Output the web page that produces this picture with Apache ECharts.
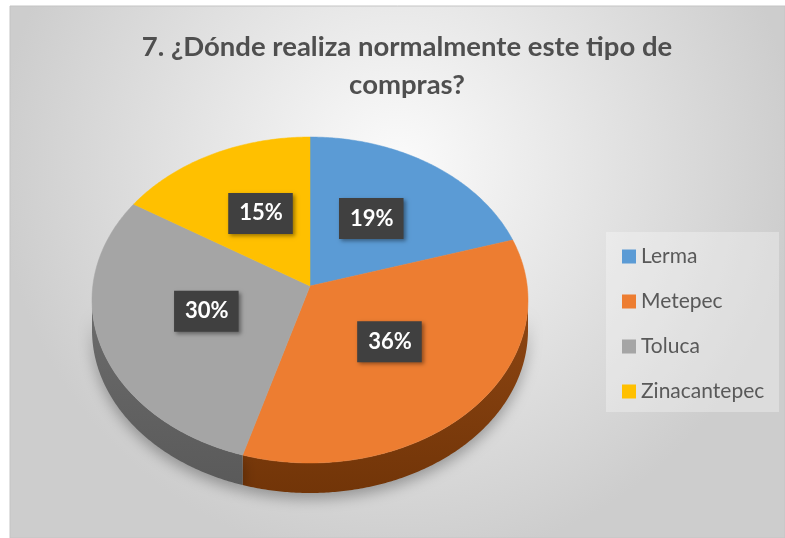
<!DOCTYPE html>
<html lang="es" style="height: 100%">
<head>
  <meta charset="UTF-8">
  <title>Compras</title>
</head>
<body style="height: 100%; margin: 0; background: #fff">
<div id="container" style="width: 785px; height: 538px"></div>
<script src="https://cdn.jsdelivr.net/npm/echarts@6/dist/echarts.min.js"></script>
<script type="text/javascript">
  var categories = ['Lerma', 'Metepec', 'Toluca', 'Zinacantepec'];
  var values = [19, 36, 30, 15];
  var colors = ['#5b9bd5', '#ed7d31', '#a5a5a5', '#ffc000'];
  // side wall shades (top, bottom)
  var sideTop = ['#35608a', '#8e4613', '#6c6c6c', '#9a7400'];
  var sideBottom = ['#2a4d70', '#723508', '#5a5a5a', '#7d5e00'];

  var dom = document.getElementById('container');
  var myChart = echarts.init(dom, null, { renderer: 'canvas' });

  var total = values.reduce(function (a, b) { return a + b; }, 0);
  // ellipse of the tilted pie
  var cx = 310, cy = 300, rx = 218, ry = 163, depth = 30;
  var apexY = 286;

  function pt(a, dy) {
    return [cx + rx * Math.sin(a), cy - ry * Math.cos(a) + (dy || 0)];
  }

  function renderSlice(params, api) {
    var i = params.seriesIndex;
    var before = 0;
    for (var k = 0; k < i; k++) before += values[k];
    var a0 = before / total * Math.PI * 2;
    var a1 = (before + values[i]) / total * Math.PI * 2;
    var children = [];

    // front side wall
    var s0 = Math.max(a0, Math.PI / 2), s1 = Math.min(a1, Math.PI * 1.5);
    if (s1 > s0) {
      var side = [];
      var n = Math.ceil((s1 - s0) / 0.01);
      for (var j = 0; j <= n; j++) side.push(pt(s0 + (s1 - s0) * j / n));
      for (var j = n; j >= 0; j--) side.push(pt(s0 + (s1 - s0) * j / n, depth));
      children.push({
        type: 'polygon',
        shape: { points: side },
        style: {
          fill: new echarts.graphic.LinearGradient(0, 0, 0, 1, [
            { offset: 0, color: sideTop[i] },
            { offset: 1, color: sideBottom[i] }
          ]),
          shadowBlur: 14, shadowColor: 'rgba(0,0,0,0.3)', shadowOffsetY: 6
        },
        z2: 1
      });
    }

    // top face
    var top = [[cx, apexY]];
    var m = Math.ceil((a1 - a0) / 0.01);
    for (var j = 0; j <= m; j++) top.push(pt(a0 + (a1 - a0) * j / m));
    children.push({
      type: 'polygon',
      shape: { points: top },
      style: { fill: colors[i], stroke: colors[i], lineWidth: 0.5 },
      z2: 2
    });

    // label
    var mid = (a0 + a1) / 2;
    children.push({
      type: 'text',
      x: cx + rx * 0.5 * Math.sin(mid),
      y: apexY - ry * 0.5 * Math.cos(mid),
      style: {
        text: Math.round(values[i] / total * 100) + '%',
        fill: '#fff',
        font: 'bold 22px Lato',
        align: 'center',
        verticalAlign: 'middle',
        backgroundColor: '#404040',
        padding: [10, 10, 9, 11],
        shadowBlur: 4, shadowColor: 'rgba(0,0,0,0.4)', shadowOffsetX: 2, shadowOffsetY: 2
      },
      z2: 10
    });
    return { type: 'group', children: children };
  }

  var series = categories.map(function (name, i) {
    return {
      name: name,
      type: 'custom',
      coordinateSystem: 'none',
      color: colors[i],
      data: [values[i]],
      renderItem: renderSlice,
      silent: true
    };
  });

  var option = {
    backgroundColor: '#fff',
    title: {
      text: '7. ¿Dónde realiza normalmente este tipo de\ncompras?',
      left: 402,
      top: 23,
      textAlign: 'center',
      textStyle: {
        fontFamily: 'Lato',
        fontWeight: 'bold',
        fontSize: 27.5,
        lineHeight: 38,
        color: '#4f4f4f'
      }
    },
    graphic: [
      {
        type: 'rect',
        shape: { x: 10, y: 6, width: 775, height: 532 },
        style: {
          fill: new echarts.graphic.RadialGradient(0.5, 0.3, 0.75, [
            { offset: 0, color: '#fbfbfb' },
            { offset: 1, color: '#cdcdcd' }
          ]),
          stroke: '#c4c4c4',
          lineWidth: 1
        },
        z: -10,
        silent: true
      },
      {
        type: 'rect',
        shape: { x: 606, y: 232, width: 173, height: 180 },
        style: { fill: 'rgba(255,255,255,0.3)' },
        z: -9,
        silent: true
      }
    ],
    legend: {
      data: categories,
      orient: 'vertical',
      left: 617,
      top: 241,
      icon: 'rect',
      itemWidth: 14,
      itemHeight: 14,
      itemGap: 24,
      selectedMode: false,
      textStyle: { fontFamily: 'Lato', fontSize: 21, color: '#595959' }
    },
    series: series
  };
  myChart.setOption(option);

  window.addEventListener('resize', myChart.resize);
</script>
</body>
</html>
